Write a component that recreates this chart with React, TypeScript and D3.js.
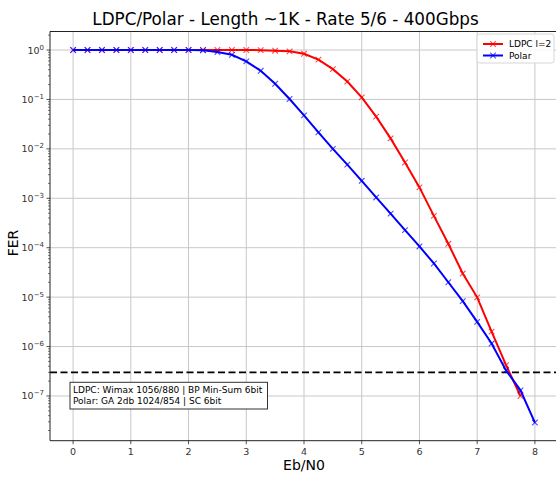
import React from "react";
import * as d3 from "d3";

const ebn0Polar = [0, 0.25, 0.5, 0.75, 1, 1.25, 1.5, 1.75, 2, 2.25, 2.5, 2.75, 3, 3.25, 3.5, 3.75, 4, 4.25, 4.5, 4.75, 5, 5.25, 5.5, 5.75, 6, 6.25, 6.5, 6.75, 7, 7.25, 7.5, 7.75, 8];
const ferPolar = [1, 1, 1, 1, 1, 1, 1, 1, 1, 0.99, 0.91, 0.8, 0.59, 0.38, 0.208, 0.102, 0.0477, 0.0216, 0.01, 0.0048, 2.26e-3, 1.04e-3, 4.9e-4, 2.27e-4, 1.06e-4, 4.8e-5, 2.0e-5, 8.3e-6, 3.16e-6, 1.15e-6, 3.3e-7, 1.3e-7, 2.9e-8];
const ebn0Ldpc = [0, 0.25, 0.5, 0.75, 1, 1.25, 1.5, 1.75, 2, 2.25, 2.5, 2.75, 3, 3.25, 3.5, 3.75, 4, 4.25, 4.5, 4.75, 5, 5.25, 5.5, 5.75, 6, 6.25, 6.5, 6.75, 7, 7.25, 7.5, 7.75];
const ferLdpc = [1, 1, 1, 1, 1, 1, 1, 1, 1, 1, 1, 1, 1, 0.995, 0.97, 0.94, 0.84, 0.64, 0.41, 0.23, 0.11, 0.045, 0.0163, 5.3e-3, 1.66e-3, 4.4e-4, 1.2e-4, 3.0e-5, 9.9e-6, 2.0e-6, 4.2e-7, 1.0e-7];
const xTicks = [0, 1, 2, 3, 4, 5, 6, 7, 8];
const yTickExps = [0, -1, -2, -3, -4, -5, -6, -7];
const threshold = 3e-7;
const seriesNames = ["LDPC l=2", "Polar"];
const noteLines = ["LDPC: Wimax 1056/880 | BP Min-Sum 6bit", "Polar: GA 2db 1024/854 | SC 6bit"];
const titleText = "LDPC/Polar - Length ~1K - Rate 5/6 - 400Gbps";

const W = 556, H = 478;
const L = 50, R = 558, T = 31.5, B = 440.7;
const FONT = "DejaVu Sans, sans-serif";

export default function App() {
  const x = d3.scaleLinear().domain([-0.4, 8.4]).range([L, R]);
  const y = d3.scaleLog().domain([Math.pow(10, -7.905), Math.pow(10, 0.375)]).range([B, T]);
  const line = d3.line<[number, number]>().x(d => x(d[0])).y(d => y(d[1]));
  const polar: [number, number][] = ebn0Polar.map((v, i) => [v, ferPolar[i]]);
  const ldpc: [number, number][] = ebn0Ldpc.map((v, i) => [v, ferLdpc[i]]);
  const minor: number[] = [];
  for (let e = -8; e <= 0; e++) for (let m = 2; m <= 9; m++) {
    const v = m * Math.pow(10, e);
    if (y(v) >= T && y(v) <= B) minor.push(v);
  }
  const s2 = 2.8;
  const marker = (cx: number, cy: number, color: string, k: string) => (
    <path key={k} d={`M${cx - s2},${cy - s2}L${cx + s2},${cy + s2}M${cx - s2},${cy + s2}L${cx + s2},${cy - s2}`} stroke={color} strokeWidth={1.1} opacity={0.7} fill="none" />
  );
  const series = [
    { data: ldpc, color: "#ff0000", name: seriesNames[0] },
    { data: polar, color: "#0000ff", name: seriesNames[1] },
  ];
  return (
    <svg width={W} height={H} style={{ position: "absolute", left: 0, top: 0, background: "#fff" }} fontFamily={FONT}>
      <defs>
        <clipPath id="plot"><rect x={L} y={T} width={R - L} height={B - T} /></clipPath>
      </defs>
      <rect x={0} y={0} width={W} height={H} fill="#fff" />
      {xTicks.map(t => <line key={"gx" + t} x1={x(t)} x2={x(t)} y1={T} y2={B} stroke="#c8c8c8" strokeWidth={1} />)}
      {yTickExps.map(e => <line key={"gy" + e} x1={L} x2={R} y1={y(Math.pow(10, e))} y2={y(Math.pow(10, e))} stroke="#c8c8c8" strokeWidth={1} />)}
      <line x1={L} x2={R} y1={y(threshold)} y2={y(threshold)} stroke="#000" strokeWidth={1.8} strokeDasharray="7,3.5" />
      <g clipPath="url(#plot)">
        {series.map(s => (
          <g key={s.name}>
            <path d={line(s.data) || ""} fill="none" stroke={s.color} strokeWidth={2} />
            {s.data.map((d, i) => marker(x(d[0]), y(d[1]), s.color, s.name + i))}
          </g>
        ))}
      </g>
      <line x1={L} x2={R} y1={T} y2={T} stroke="#222" strokeWidth={1} />
      <line x1={L} x2={R} y1={B} y2={B} stroke="#222" strokeWidth={1} />
      <line x1={L} x2={L} y1={T} y2={B} stroke="#222" strokeWidth={1} />
      {xTicks.map(t => (
        <g key={"xt" + t}>
          <line x1={x(t)} x2={x(t)} y1={B} y2={B + 3.5} stroke="#222" strokeWidth={0.8} />
          <text x={x(t)} y={B + 14} textAnchor="middle" fontSize={9.5} fill="#333">{t}</text>
        </g>
      ))}
      {minor.map((v, i) => <line key={"ym" + i} x1={L - 2} x2={L} y1={y(v)} y2={y(v)} stroke="#222" strokeWidth={0.6} />)}
      {yTickExps.map(e => (
        <g key={"yt" + e}>
          <line x1={L - 3.5} x2={L} y1={y(Math.pow(10, e))} y2={y(Math.pow(10, e))} stroke="#222" strokeWidth={0.8} />
          <text x={L - 6} y={y(Math.pow(10, e)) + 3.5} textAnchor="end" fontSize={9.5} fill="#333">
            10<tspan dy={-4} fontSize={7}>{e === 0 ? "0" : "\u2212" + Math.abs(e)}</tspan>
          </text>
        </g>
      ))}
      <text x={285.5} y={25} textAnchor="middle" fontSize={16.8} fill="#000">{titleText}</text>
      <text x={304} y={470} textAnchor="middle" fontSize={14} fill="#000">Eb/N0</text>
      <text transform={`translate(18,243) rotate(-90)`} textAnchor="middle" fontSize={14} fill="#000">FER</text>
      <rect x={477} y={34} width={77} height={29} rx={2.5} fill="#fff" fillOpacity={0.85} stroke="#d6d6d6" strokeWidth={1} />
      {series.map((s, i) => {
        const ly = 44 + i * 11.5;
        return (
          <g key={"lg" + i}>
            <line x1={483} x2={503} y1={ly} y2={ly} stroke={s.color} strokeWidth={2} />
            {marker(493, ly, s.color, "lm" + i)}
            <text x={509} y={ly + 3.3} fontSize={9} fill="#000">{s.name}</text>
          </g>
        );
      })}
      <rect x={70} y={382.3} width={197.5} height={26.7} fill="#fff" stroke="#333" strokeWidth={1} />
      {noteLines.map((t, i) => (
        <text key={"n" + i} x={73} y={392.5 + i * 11.5} fontSize={9} fill="#000">{t}</text>
      ))}
    </svg>
  );
}
